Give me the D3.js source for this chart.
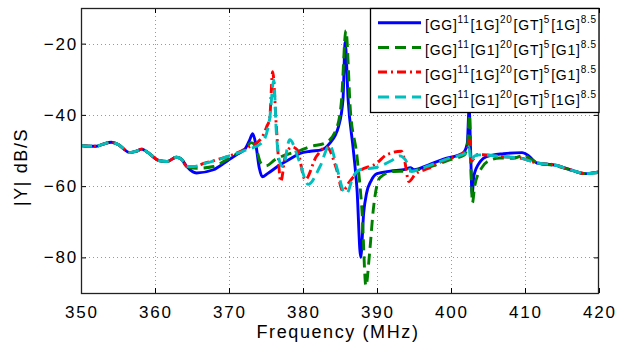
<!DOCTYPE html>
<html><head><meta charset="utf-8">
<script src="https://cdn.jsdelivr.net/npm/d3@7"></script>
<style>
html,body{margin:0;padding:0;background:#fff;}
svg{display:block;}
text{font-family:"Liberation Sans",Arial,sans-serif;fill:#000;}
</style></head>
<body>
<svg id="chart" width="621" height="347"></svg>
<script>
// ---------- data ----------
const xTicks = [350,360,370,380,390,400,410,420];
const yTicks = [-20,-40,-60,-80];
const xDomain = [350,420];
const yDomain = [-90,-10];
const xLabel = "Frequency (MHz)";
const yLabel = "|Y| dB/S";

const common = [[350,-48.6],[351,-48.8],[352.1,-48.8],[353,-48.2],[354.1,-47.7],[355,-48.3],[356.6,-50.6],[357.5,-50.2],[358.2,-49.6],[359,-50.5],[360.5,-52.8],[361.6,-53.1],[362.9,-51.9],[363.6,-52.5],[364.3,-54.5]];

const blueVals = [[365.6,-56.3],[367.9,-55.4],[369.5,-53.3],[371,-51.2],[372.2,-49.5],[372.8,-47],[373.2,-45.3],[373.6,-48],[374.1,-55],[374.5,-57.4],[375.2,-56.5],[376.9,-54],[378.3,-52.3],[379.6,-50.8],[381,-50.2],[382.5,-49.8],[383.6,-48],[384.8,-43.3],[385.4,-35.8],[385.7,-19.6],[386.1,-35.8],[386.8,-49.8],[387.3,-61],[387.8,-80],[388.2,-67.5],[388.6,-61.9],[389.2,-58.5],[390,-56.5],[391.8,-55.8],[393.8,-55.3],[394.5,-54.8],[395,-55.4],[397,-54],[399,-52.4],[401.6,-50.8],[402.2,-48],[402.45,-38],[402.65,-50],[402.85,-62.4],[403.1,-57],[404,-53],[404.8,-51.7],[407.1,-50.9],[409.6,-50.6],[410.5,-51.5],[411.6,-53.5],[414.3,-54.2],[416.1,-55.4],[418.1,-56.5],[420,-56]];

const greenVals = [[365.6,-55],[367.9,-54.5],[369.5,-52.8],[371,-51],[372.2,-49.5],[373,-47.8],[373.6,-49],[374.3,-53.5],[375,-54.3],[376.2,-52.6],[378,-51],[379.6,-50],[381,-48.9],[383,-47.9],[384.5,-44],[385.2,-36],[385.8,-16.3],[386.4,-38.6],[387.3,-51.7],[388,-68],[388.5,-88],[389,-78.7],[389.5,-66.6],[390.4,-57.6],[392.2,-55.9],[394,-55.8],[396,-55.2],[398,-54],[400,-52.5],[401.8,-51.3],[402.25,-48],[402.5,-40],[402.7,-55],[402.9,-64.7],[403.2,-60],[404.1,-55],[405,-53],[406.6,-52.1],[408.4,-52.2],[409.8,-51.4],[410.8,-52.5],[411.8,-53.6],[414,-54.2],[416.1,-55.4],[418.2,-56.5],[420,-56]];

const redVals = [[365.2,-54.5],[366.8,-53.5],[368.5,-52.5],[370.5,-51.2],[372.4,-49.3],[374.4,-46.5],[375.1,-43.3],[375.5,-41],[375.9,-27.9],[376.4,-43.3],[377,-58.7],[377.6,-51.7],[378.5,-49],[379.2,-49.8],[380.3,-58.2],[381.8,-51.7],[383.2,-49],[384.5,-55],[385.4,-61.4],[386.2,-59],[387.3,-56.3],[390,-53.5],[391.3,-51.2],[393.3,-50.2],[393.7,-52.5],[394.3,-58.7],[395.2,-56.6],[397,-55],[399,-52.8],[401.6,-50.7],[402.3,-49],[402.5,-47],[402.75,-53],[403.5,-51.2],[404.3,-51.2],[406.6,-51.7],[409.3,-52.1],[411.6,-53.5],[413.9,-54],[416.1,-55.4],[418.3,-56.5],[420,-56.1]];

const cyanVals = [[365.2,-54.5],[367,-53.5],[368.5,-52.6],[370.5,-51.2],[372.4,-49.8],[374.5,-47.7],[375.5,-41],[376.05,-30.3],[376.4,-45],[376.9,-53.5],[377.3,-54.5],[378.2,-47],[379.5,-53],[380.7,-59.5],[382.3,-54.5],[383.6,-48.5],[384.6,-55],[385.5,-61.5],[385.9,-62],[386.8,-57.3],[387.7,-55.4],[390,-54.7],[392,-52.8],[393.1,-51.5],[393.8,-52.5],[394.7,-55.9],[396,-55],[398,-53.5],[400,-52],[402,-50.7],[402.4,-49],[402.7,-53],[403.2,-51.5],[404.3,-51.2],[406.6,-51.7],[409.3,-52.1],[411.6,-53.5],[413.9,-54],[416.1,-55.4],[418.3,-56.5],[420,-56.1]];

// legend label pieces: [base, superscript] pairs
const legendLabels = [
  [["[GG]","11"],["[1G]","20"],["[GT]","5"],["[1G]","8.5"]],
  [["[GG]","11"],["[G1]","20"],["[GT]","5"],["[G1]","8.5"]],
  [["[GG]","11"],["[1G]","20"],["[GT]","5"],["[G1]","8.5"]],
  [["[GG]","11"],["[G1]","20"],["[GT]","5"],["[1G]","8.5"]]
];

const series = [
  {vals: common.concat(blueVals),  color:"#0000ff", dash:null},
  {vals: common.concat(greenVals), color:"#008000", dash:"11,6"},
  {vals: common.concat(redVals),   color:"#ff0000", dash:"9,4,2,4"},
  {vals: common.concat(cyanVals),  color:"#00bfbf", dash:"11,6"}
];

// ---------- layout ----------
const L=81, R=599, T=8, B=293;
const svg = d3.select("#chart");
const x = d3.scaleLinear().domain(xDomain).range([L,R]);
const y = d3.scaleLinear().domain(yDomain).range([B,T]);

svg.append("rect").attr("x",0).attr("y",0).attr("width",621).attr("height",347).attr("fill","#fff");
svg.append("rect").attr("x",L).attr("y",T).attr("width",R-L).attr("height",B-T).attr("fill","#fff");

// grid
const grid = svg.append("g").attr("stroke","#999").attr("stroke-width",1).attr("stroke-dasharray","1,3");
grid.selectAll("line.gx").data(xTicks.slice(1,-1)).enter().append("line")
  .attr("x1",d=>Math.round(x(d))+0.5).attr("x2",d=>Math.round(x(d))+0.5).attr("y1",T).attr("y2",B);
grid.selectAll("line.gy").data(yTicks).enter().append("line")
  .attr("y1",d=>Math.round(y(d))+0.5).attr("y2",d=>Math.round(y(d))+0.5).attr("x1",L).attr("x2",R);

// clip
svg.append("clipPath").attr("id","clip").append("rect").attr("x",L).attr("y",T).attr("width",R-L).attr("height",B-T);

const line = d3.line().x(d=>x(d[0])).y(d=>y(d[1])).curve(d3.curveMonotoneX);
const plot = svg.append("g").attr("clip-path","url(#clip)");
series.forEach(s=>{
  plot.append("path").datum(s.vals).attr("d",line).attr("fill","none")
    .attr("stroke",s.color).attr("stroke-width",2.9)
    .attr("stroke-dasharray",s.dash).attr("stroke-linejoin","round");
});

// axes (box with inward ticks)
const tickStyle = g => { g.select(".domain").remove(); g.selectAll("text").remove(); g.selectAll("line").attr("stroke","#000"); };
svg.append("g").attr("transform",`translate(0,${B})`).call(d3.axisBottom(x).tickValues(xTicks).tickSizeInner(-5).tickSizeOuter(0)).call(tickStyle);
svg.append("g").attr("transform",`translate(0,${T})`).call(d3.axisTop(x).tickValues(xTicks).tickSizeInner(-5).tickSizeOuter(0)).call(tickStyle);
svg.append("g").attr("transform",`translate(${L},0)`).call(d3.axisLeft(y).tickValues(yTicks).tickSizeInner(-5).tickSizeOuter(0)).call(tickStyle);
svg.append("g").attr("transform",`translate(${R},0)`).call(d3.axisRight(y).tickValues(yTicks).tickSizeInner(-5).tickSizeOuter(0)).call(tickStyle);
svg.append("rect").attr("x",L+0.5).attr("y",T+0.5).attr("width",R-L-1).attr("height",B-T).attr("fill","none").attr("stroke","#222").attr("stroke-width",1.3);

// tick labels
svg.append("g").selectAll("text").data(xTicks).enter().append("text")
  .attr("x",d=>x(d)+1).attr("y",318).attr("text-anchor","middle")
  .attr("font-size",17).attr("letter-spacing","1.8px").text(d=>d);
svg.append("g").selectAll("text").data(yTicks).enter().append("text")
  .attr("x",78).attr("y",d=>y(d)+6).attr("text-anchor","end")
  .attr("font-size",17).attr("letter-spacing","1.8px").text(d=>"\u2212"+Math.abs(d));

// axis labels
svg.append("text").attr("x",338).attr("y",338).attr("text-anchor","middle")
  .attr("font-size",18).attr("letter-spacing","1.6px").text(xLabel);
svg.append("text").attr("transform","translate(27,167) rotate(-90)").attr("text-anchor","middle")
  .attr("font-size",18).attr("letter-spacing","1.6px").text(yLabel);

// legend
const lg = svg.append("g");
lg.append("rect").attr("x",370.5).attr("y",T+0.5).attr("width",R-370.5).attr("height",104).attr("fill","#fff").attr("stroke","#000").attr("stroke-width",1.3);
const rowY = [22.7,47.5,72,97];
series.forEach((s,i)=>{
  lg.append("line").attr("x1",378).attr("x2",421).attr("y1",rowY[i]).attr("y2",rowY[i])
    .attr("stroke",s.color).attr("stroke-width",2.9).attr("stroke-dasharray",s.dash);
  const t = lg.append("text").attr("x",425).attr("y",rowY[i]+7.5).attr("font-size",14).attr("letter-spacing","0.75px");
  legendLabels[i].forEach(([b,sup])=>{
    t.append("tspan").attr("font-size",14).text(b);
    t.append("tspan").attr("font-size",10).attr("dy",-7).text(sup);
    t.append("tspan").attr("font-size",1).attr("dy",7).text(" ");
  });
});
</script>
</body></html>
